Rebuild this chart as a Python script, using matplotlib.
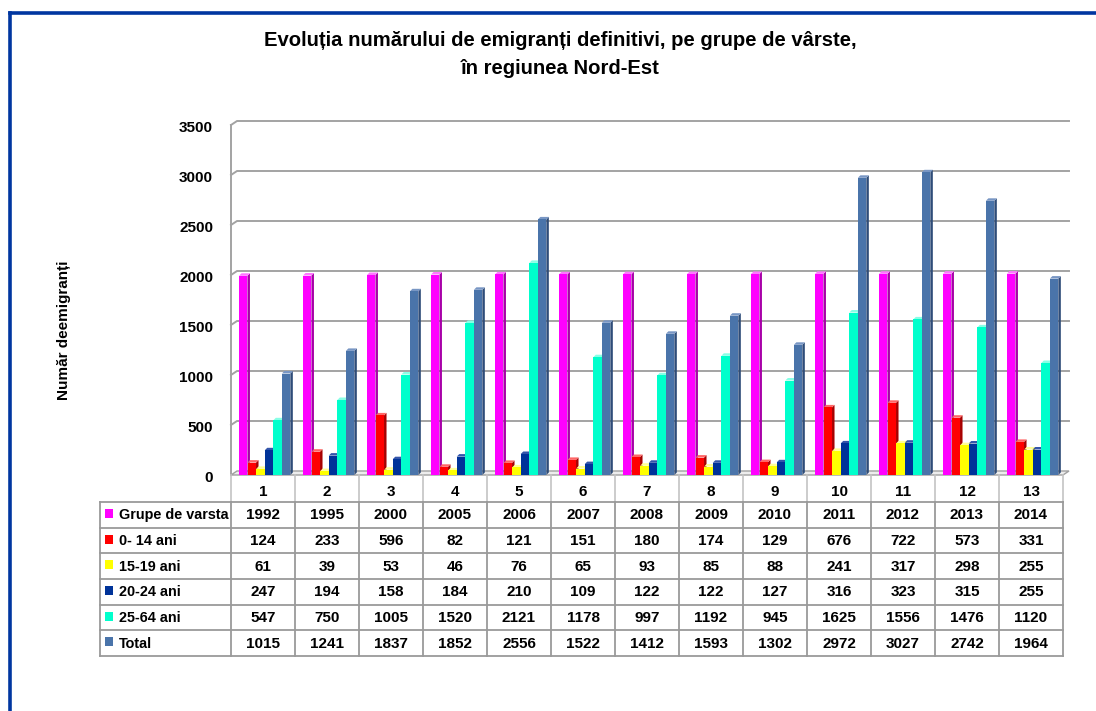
import matplotlib
matplotlib.use('Agg')
import matplotlib.pyplot as plt
from matplotlib.patches import Polygon
from matplotlib.lines import Line2D
from matplotlib.transforms import IdentityTransform

# ---------------- data ----------------
categories = ['1', '2', '3', '4', '5', '6', '7', '8', '9', '10', '11', '12', '13']
series_names = ['Grupe de varsta', '0- 14 ani', '15-19 ani', '20-24 ani', '25-64 ani', 'Total']
grupe_de_varsta = [1992, 1995, 2000, 2005, 2006, 2007, 2008, 2009, 2010, 2011, 2012, 2013, 2014]
ani_0_14 = [124, 233, 596, 82, 121, 151, 180, 174, 129, 676, 722, 573, 331]
ani_15_19 = [61, 39, 53, 46, 76, 65, 93, 85, 88, 241, 317, 298, 255]
ani_20_24 = [247, 194, 158, 184, 210, 109, 122, 122, 127, 316, 323, 315, 255]
ani_25_64 = [547, 750, 1005, 1520, 2121, 1178, 997, 1192, 945, 1625, 1556, 1476, 1120]
total = [1015, 1241, 1837, 1852, 2556, 1522, 1412, 1593, 1302, 2972, 3027, 2742, 1964]
y_ticks = [0, 500, 1000, 1500, 2000, 2500, 3000, 3500]

title = 'Evoluția numărului de emigranți definitivi, pe grupe de vârste,\nîn regiunea Nord-Est'
y_label = 'Număr deemigranți'

colors = ['#FF00FF', '#FF0000', '#FFFF00', '#003399', '#00FFCC', '#4A74AA']
side_colors = ['#A800A8', '#A80000', '#B8B800', '#001E60', '#00B890', '#2E4C78']
top_colors = ['#FF77FF', '#FF6666', '#FFFF99', '#3355AA', '#88FFE6', '#7896C4']

all_series = [grupe_de_varsta, ani_0_14, ani_15_19, ani_20_24, ani_25_64, total]

# ---------------- figure ----------------
W, H = 1096, 711
fig = plt.figure(figsize=(W / 100, H / 100), dpi=100)
fig.patch.set_facecolor('white')

FONT = ['Liberation Sans', 'DejaVu Sans']


def fx(px):
    return px / W


def fy(py):
    return 1 - py / H


# blue frame
fig.add_artist(Line2D([fx(10), fx(1100)], [fy(12.5), fy(12.5)], color='#0036A0', lw=2.6))
fig.add_artist(Line2D([fx(10), fx(10)], [fy(12.5), fy(720)], color='#0036A0', lw=2.6))

# title
fig.text(fx(560), fy(54.5), title, ha='center', va='center', fontsize=14.6,
         fontweight='bold', family=FONT, linespacing=1.56)

# y label
fig.text(fx(64), fy(330), y_label, rotation=90, ha='center', va='center',
         fontsize=11, fontweight='bold', family=FONT)

# chart axes
AX_L, AX_R, AX_B, AX_T = 231, 1063, 475, 125
ax = fig.add_axes([fx(AX_L), fy(AX_B), (AX_R - AX_L) / W, (AX_B - AX_T) / H])
n = len(categories)
ax.set_xlim(0, n)
ax.set_ylim(y_ticks[0], y_ticks[-1])
ax.set_axis_off()

WDX, WDY = 6, 4  # wall depth offset (px)
BDX, BDY = 2.5, 2.5  # bar depth offset (px)
ID = IdentityTransform()


def D(x, y):
    return ax.transData.transform((x, y))


# floor
p0, p1 = D(0, 0), D(n, 0)
floor = Polygon([p0, p1, (p1[0] + WDX, p1[1] + WDY), (p0[0] + WDX, p0[1] + WDY)],
                closed=True, facecolor='#EDEDED', edgecolor='#A0A0A0', lw=1.0,
                transform=ID, clip_on=False, zorder=1)
ax.add_patch(floor)

# gridlines on back wall + left wall diagonals
for v in y_ticks[1:]:
    a, b = D(0, v), D(n, v)
    ax.add_line(Line2D([a[0], a[0] + WDX, b[0] + WDX], [a[1], a[1] + WDY, b[1] + WDY],
                       color='#A3A3A3', lw=1.4, transform=ID, clip_on=False, zorder=2))
# left wall edge
a, b = D(0, y_ticks[0]), D(0, y_ticks[-1])
ax.add_line(Line2D([a[0], b[0]], [a[1], b[1]], color='#A3A3A3', lw=1.4,
                   transform=ID, clip_on=False, zorder=2))

# y tick labels
for v in y_ticks:
    px, py = D(0, v)
    fig.text((px - 18) / W, (py - 3) / H, f'{v}', ha='right', va='center',
             fontsize=11, fontweight='bold', family=FONT)

# bars with pseudo 3D
start, step, bw = 0.125, 0.134, 0.132
for j, vals in enumerate(all_series):
    xs = [i + start + j * step for i in range(n)]
    ax.bar(xs, vals, width=bw, align='edge', color=colors[j], edgecolor='none',
           zorder=10 + 2 * j, clip_on=False)
    for x0, v in zip(xs, vals):
        (xl, yb), (xr, yt) = D(x0, 0), D(x0 + bw, v)
        side = Polygon([(xr, yb), (xr, yt), (xr + BDX, yt + BDY), (xr + BDX, yb + BDY)],
                       closed=True, facecolor=side_colors[j], edgecolor='none',
                       transform=ID, clip_on=False, zorder=9.5 + 2 * j)
        top = Polygon([(xl, yt), (xr, yt), (xr + BDX, yt + BDY), (xl + BDX, yt + BDY)],
                      closed=True, facecolor=top_colors[j], edgecolor='none',
                      transform=ID, clip_on=False, zorder=9.5 + 2 * j)
        ax.add_patch(side)
        ax.add_patch(top)

# ---------------- data table ----------------
T_LEFT = 100
COLW = (AX_R - AX_L) / n
HDR_TOP, HDR_BOT = 475, 502
ROWH = 25.67
n_rows = len(all_series)
tbl_bot = HDR_BOT + n_rows * ROWH

light = '#C4C4C4'
dark = '#9A9A9A'
# header row verticals
for k in range(n + 1):
    x = AX_L + k * COLW
    fig.add_artist(Line2D([fx(x), fx(x)], [fy(HDR_TOP), fy(HDR_BOT)], color=light, lw=1.2))
for k, c in enumerate(categories):
    fig.text(fx(AX_L + (k + 0.5) * COLW), fy(491.5), c,
             ha='center', va='center', fontsize=11, fontweight='bold', family=FONT)

# data rows grid
for r in range(n_rows + 1):
    y = HDR_BOT + r * ROWH
    fig.add_artist(Line2D([fx(T_LEFT), fx(AX_R)], [fy(y), fy(y)], color=dark, lw=1.3))
for x in [T_LEFT] + [AX_L + k * COLW for k in range(n + 1)]:
    fig.add_artist(Line2D([fx(x), fx(x)], [fy(HDR_BOT), fy(tbl_bot)], color=dark, lw=1.3))

for r, (name, vals) in enumerate(zip(series_names, all_series)):
    yc = HDR_BOT + (r + 0.5) * ROWH
    fig.add_artist(Polygon([(fx(105), fy(yc - 6)), (fx(113), fy(yc - 6)),
                            (fx(113), fy(yc + 3)), (fx(105), fy(yc + 3))],
                           closed=True, facecolor=colors[r], edgecolor='none'))
    fig.text(fx(119), fy(yc + 0.5), name, ha='left', va='center', fontsize=10.4,
             fontweight='bold', family=FONT)
    for k, v in enumerate(vals):
        fig.text(fx(AX_L + (k + 0.5) * COLW), fy(yc + 0.5), f'{v}', ha='center', va='center',
                 fontsize=11, fontweight='bold', family=FONT)

fig.savefig('out.png', dpi=100, facecolor='white')
